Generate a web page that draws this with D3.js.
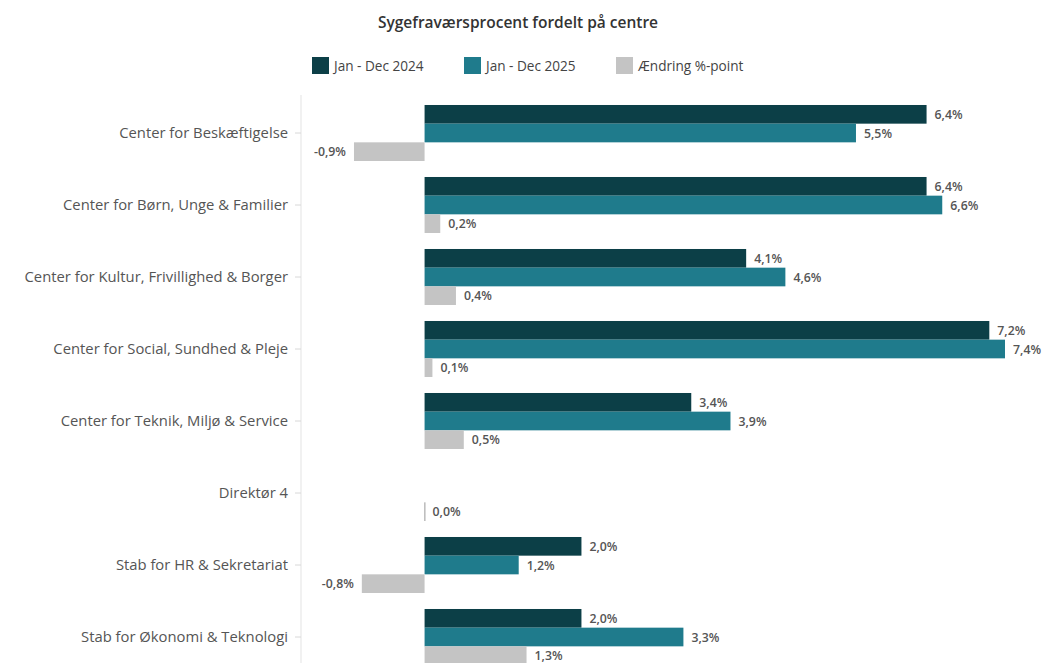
<!DOCTYPE html>
<html><head><meta charset="utf-8">
<script src="https://cdn.jsdelivr.net/npm/d3@7"></script>
<style>
html,body{margin:0;padding:0;background:#fff;}
svg{display:block;font-family:"Open Sans","Noto Sans",sans-serif;}
</style></head>
<body><svg id="c" width="1042" height="663"></svg>
<script>
const categories = ["Center for Beskæftigelse","Center for Børn, Unge & Familier","Center for Kultur, Frivillighed & Borger","Center for Social, Sundhed & Pleje","Center for Teknik, Miljø & Service","Direktør 4","Stab for HR & Sekretariat","Stab for Økonomi & Teknologi"];
const seriesNames = ["Jan - Dec 2024","Jan - Dec 2025","Ændring %-point"];
const v2024 = [6.4, 6.4, 4.1, 7.2, 3.4, null, 2.0, 2.0];
const v2025 = [5.5, 6.6, 4.6, 7.4, 3.9, null, 1.2, 3.3];
const vChange = [-0.9, 0.2, 0.4, 0.1, 0.5, 0.0, -0.8, 1.3];
const colors = ["#0c3f47","#1f7b8c","#c4c4c4"];
const title = "Sygefraværsprocent fordelt på centre";

const svg = d3.select("#c");
const x = d3.scaleLinear().domain([-1.55, 7.4]).range([303, 1005]);
const y = d3.scaleBand().domain(categories).range([97, 97 + 8*72]).paddingInner(0.222).paddingOuter(0.111);
const ys = d3.scaleBand().domain([0,1,2]).range([0, y.bandwidth()]);
const fmt = v => d3.format(".1f")(v).replace(".", ",").replace("−","-") + "%";

// title
svg.append("text").attr("x", 518).attr("y", 28).attr("text-anchor","middle")
  .attr("font-size", 15.5).attr("font-weight", 600).attr("fill","#333").text(title);

// legend
const legX = [312, 464, 616];
seriesNames.forEach((n,i) => {
  const g = svg.append("g").attr("transform", `translate(${legX[i]},57)`);
  g.append("rect").attr("width",17).attr("height",17).attr("fill",colors[i]);
  g.append("text").attr("x",22).attr("y",14).attr("font-size",13.6).attr("fill","#444").text(n);
});

// axis
const axis = d3.axisLeft(y).tickSize(6).tickPadding(7);
const ag = svg.append("g").attr("transform","translate(301,0)").call(axis);
ag.select(".domain").attr("d","M0,95V663").attr("stroke","#e3e3e3");
ag.selectAll(".tick line").attr("stroke","#d8d8d8");
ag.selectAll(".tick text").attr("font-size",14.8).attr("fill","#555")
  .attr("font-family","'Open Sans','Noto Sans',sans-serif");

// bars
const series = [v2024, v2025, vChange];
series.forEach((vals, si) => {
  const g = svg.append("g");
  categories.forEach((c, ci) => {
    const v = vals[ci];
    if (v === null) return;
    const y0 = y(c) + ys(si);
    const h = ys.bandwidth();
    const x0 = Math.min(x(0), x(v)), w = Math.abs(x(v) - x(0));
    if (v === 0) {
      g.append("rect").attr("x", x(0)-0.5).attr("y", y0).attr("width", 1.5).attr("height", h).attr("fill","#bbb");
    } else {
      g.append("rect").attr("x", x0).attr("y", y0).attr("width", w).attr("height", h).attr("fill", colors[si]);
    }
    const lx = v < 0 ? x(v) - 8 : x(v) + 8;
    g.append("text").attr("x", lx).attr("y", y0 + h/2 + 4.5)
      .attr("text-anchor", v < 0 ? "end" : "start")
      .attr("font-size", 12.3).attr("font-weight", 600).attr("fill","#555").text(fmt(v));
  });
});
</script></body></html>
